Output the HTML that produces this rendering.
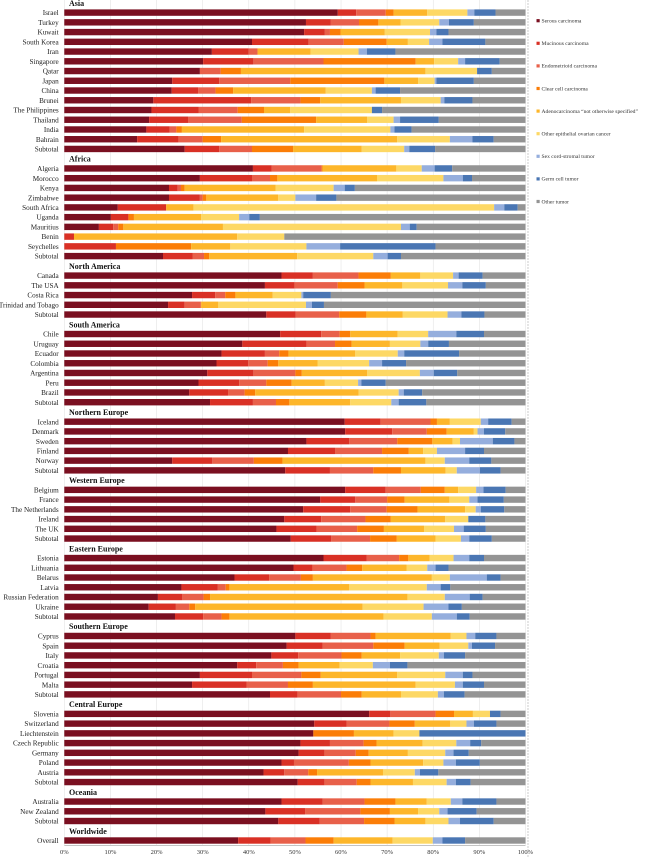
<!DOCTYPE html>
<html><head><meta charset="utf-8"><style>
body{margin:0;background:#fff;}
svg text{font-family:"Liberation Serif",serif;}
</style></head><body>
<svg id="chart" width="652" height="858" xmlns="http://www.w3.org/2000/svg"></svg>
<script>
const seriesNames=["Serous carcinoma","Mucinous carcinoma","Endometrioid carcinoma","Clear cell carcinoma","Adenocarcinoma \u201cnot otherwise specified\u201d","Other epithelial ovarian cancer","Sex cord-stromal tumor","Germ cell tumor","Other tumor"];
const colors=["#7a0f20","#d93025","#e8604a","#fb7d07","#fdb62a","#fdd865","#95aedd","#4a76b3","#949494"];
const tickLabels=["0%","10%","20%","30%","40%","50%","60%","70%","80%","90%","100%"];
const groups=["Asia","Africa","North America","South America","Northern Europe","Western Europe","Eastern Europe","Southern Europe","Central Europe","Oceania","Worldwide"];
const countries=[
["Israel","Turkey","Kuwait","South Korea","Iran","Singapore","Qatar","Japan","China","Brunei","The Philippines","Thailand","India","Bahrain","Subtotal"],
["Algeria","Morocco","Kenya","Zimbabwe","South Africa","Uganda","Mauritius","Benin","Seychelles","Subtotal"],
["Canada","The USA","Costa Rica","Trinidad and Tobago","Subtotal"],
["Chile","Uruguay","Ecuador","Colombia","Argentina","Peru","Brazil","Subtotal"],
["Iceland","Denmark","Sweden","Finland","Norway","Subtotal"],
["Belgium","France","The Netherlands","Ireland","The UK","Subtotal"],
["Estonia","Lithuania","Belarus","Latvia","Russian Federation","Ukraine","Subtotal"],
["Cyprus","Spain","Italy","Croatia","Portugal","Malta","Subtotal"],
["Slovenia","Switzerland","Liechtenstein","Czech Republic","Germany","Poland","Austria","Subtotal"],
["Australia","New Zealand","Subtotal"],
["Overall"]];
const asiaValues=[
[59.3,4.0,6.4,1.7,7.3,8.7,1.5,4.6,6.5],[52.4,5.4,6.1,4.2,4.8,8.4,2.1,5.4,11.2],[52.0,4.5,1.1,2.3,9.6,9.8,1.4,2.6,16.7],[40.7,12.3,7.6,9.3,4.6,4.6,2.9,9.3,8.7],[32.0,8.0,1.9,0,11.5,10.4,1.8,6.2,28.2],[30.1,10.9,15.2,20.0,4.0,5.2,1.5,7.5,5.6],[29.4,0,4.5,4.4,40.0,11.2,0,3.2,7.3],[23.4,10.2,15.4,20.4,7.3,3.6,0.4,8.1,11.2],[23.3,5.7,3.8,3.8,20.1,10.0,0.8,5.3,27.2],[19.3,21.2,10.7,4.3,17.5,8.6,0.8,6.1,11.5],[18.9,10.2,8.5,5.7,5.7,17.7,0,2.2,31.1],[18.4,8.5,11.6,16.1,11.1,5.7,1.4,8.4,18.8],[17.8,5.0,1.5,1.2,26.5,18.7,0.9,3.7,24.7],[15.8,9.0,5.2,4.0,38.2,11.4,4.9,4.6,6.9],[26.1,7.5,7.1,8.9,14.9,9.2,1.1,5.6,19.6]];
const africaValues=[
[40.9,4.1,10.8,0.2,16.0,5.5,2.8,3.8,15.9],[29.4,11.3,3.9,1.6,21.6,14.4,4.2,2.0,11.6],[22.7,1.9,0.7,0.8,19.7,12.6,2.4,2.2,37.0],[22.7,6.7,0.6,0.8,15.6,3.7,4.5,4.4,41.0],[11.6,10.5,0,0,5.9,65.2,2.2,2.9,1.7],[10.1,3.8,0,1.2,14.6,8.2,2.2,2.3,57.6],[7.5,3.1,1.1,1.1,21.6,38.6,1.9,1.5,23.6],[0,2.1,0,0,35.4,10.2,0,0,52.3],[0,11.2,0,16.3,8.5,16.5,7.3,20.7,19.5],[21.4,6.4,2.5,1.1,19.1,16.5,3.1,2.9,27.0]];
const northAmericaValues=[
[47.1,6.8,9.9,7.0,6.4,7.1,1.2,5.2,9.3],[43.5,6.4,9.4,5.8,8.2,9.9,3.1,5.1,8.6],[27.7,5.0,2.2,2.2,8.1,6.2,0.4,6.0,42.2],[22.5,3.6,3.5,0.1,3.7,19.0,1.3,2.6,43.7],[43.8,6.4,9.4,5.9,7.9,9.7,3.0,5.0,8.9]];
const southAmericaValues=[
[46.8,8.9,4.0,2.3,10.3,6.6,6.1,6.0,9.0],[38.6,13.9,6.2,3.6,8.3,6.6,1.7,4.5,16.6],[34.1,9.4,3.1,2.0,14.5,9.2,1.4,11.9,14.4],[33.0,6.9,4.2,2.3,8.5,11.2,2.8,5.2,25.9],[31.0,10.0,9.1,1.4,14.2,11.4,3.0,5.1,14.8],[29.1,8.8,5.9,5.5,7.2,7.2,0.7,5.3,30.3],[27.1,8.4,3.6,2.3,22.4,8.7,1.1,4.0,22.4],[31.6,9.3,5.0,2.9,13.2,8.9,1.6,6.0,21.5]];
const northernEuropeValues=[
[60.8,7.8,10.8,1.4,2.8,6.7,1.6,5.1,3.0],[60.9,10.2,7.5,4.3,5.9,0.8,1.4,4.6,4.4],[52.5,9.3,10.4,7.6,4.4,1.6,7.1,4.7,2.4],[48.5,10.2,10.2,5.8,3.1,3.0,6.1,4.1,9.0],[23.4,8.7,9.0,6.2,31.0,4.2,5.3,4.8,7.4],[47.9,9.7,9.4,6.0,9.7,2.4,5.0,4.5,5.4]];
const westernEuropeValues=[
[60.9,8.8,7.6,5.2,2.9,3.9,1.6,4.8,4.3],[55.5,7.6,6.9,3.8,9.7,4.3,1.8,5.7,4.7],[51.8,10.2,7.9,6.7,10.3,2.3,1.1,5.1,4.6],[47.7,8.0,9.6,5.5,11.8,5.0,0,3.7,8.7],[46.0,8.7,8.8,5.8,8.7,6.5,2.1,4.8,8.6],[49.1,8.8,8.4,5.8,8.4,5.5,1.8,4.9,7.3]];
const easternEuropeValues=[
[56.2,9.4,7.0,2.0,4.6,5.2,3.4,3.2,9.0],[49.7,4.1,7.4,3.4,9.6,4.5,1.8,2.8,16.7],[36.9,7.5,6.9,2.6,25.8,3.9,8.0,3.0,5.4],[25.4,7.9,1.7,0.8,26.0,16.8,3.0,2.1,16.3],[20.3,5.3,4.6,1.4,42.8,8.1,5.4,2.8,9.3],[18.3,5.9,2.9,1.3,36.3,13.2,5.4,2.9,13.8],[24.0,6.1,4.0,1.7,33.4,10.5,5.4,2.8,12.1]];
const southernEuropeValues=[
[50.1,7.7,8.6,1.1,16.3,3.4,1.9,4.6,6.3],[48.2,7.8,11.0,6.8,7.6,6.2,0.8,5.0,6.6],[44.9,5.8,9.4,4.4,8.3,8.4,1.1,4.6,13.1],[37.5,4.1,5.8,3.4,8.9,7.2,3.7,3.8,25.6],[29.4,11.3,10.7,4.2,16.6,10.4,3.8,2.1,11.5],[27.7,11.8,9.0,5.4,22.3,8.5,1.7,4.6,9.0],[44.6,6.0,9.4,4.5,8.5,8.0,1.3,4.5,13.2]];
const centralEuropeValues=[
[66.1,4.6,9.8,4.0,4.1,3.7,0,2.3,5.4],[54.2,7.0,9.3,5.5,7.7,3.5,1.6,4.9,6.3],[54.0,0,0,8.8,8.6,5.6,0,23.0,0],[51.2,6.4,7.3,2.8,10.0,7.3,3.0,2.4,9.6],[50.8,5.6,6.8,2.8,8.5,8.1,1.8,3.3,12.3],[47.1,2.7,11.9,4.7,11.4,4.4,2.7,5.2,9.9],[43.2,4.5,5.2,1.9,14.3,6.9,1.1,4.0,18.9],[50.6,5.8,7.0,3.0,9.2,7.3,2.0,3.2,11.9]];
const oceaniaValues=[
[47.1,8.9,9.1,6.7,6.8,5.2,2.5,7.4,6.3],[43.6,8.6,12.0,6.4,6.1,4.6,1.8,6.3,10.6],[46.4,9.0,9.6,6.6,6.7,5.0,2.5,7.3,6.9]];
const worldwideValues=[[37.7,7.0,7.6,6.1,12.8,8.7,2.1,4.9,13.1]];
const groupValues=[asiaValues,africaValues,northAmericaValues,southAmericaValues,northernEuropeValues,westernEuropeValues,easternEuropeValues,southernEuropeValues,centralEuropeValues,oceaniaValues,worldwideValues];

const NS="http://www.w3.org/2000/svg";
const svg=document.getElementById('chart');
const X0=64.3,XW=461.2;
const x=p=>X0+p/100*XW;
const Y0=12.6,PITCH=9.74,BH=6.4;
const y=slot=>Y0+slot*PITCH;
function mk(tag,attrs,parent){const e=document.createElementNS(NS,tag);for(const k in attrs)e.setAttribute(k,attrs[k]);(parent||svg).appendChild(e);return e;}
const grid=mk('g',{});


tickLabels.forEach((t,i)=>{
  const gl=mk('line',{x1:x(i*10),x2:x(i*10),y1:0,y2:845,stroke:'#e4e4e4','stroke-width':0.6},grid);
  
  
  const tl=mk('text',{x:x(i*10),y:854,'font-size':6.5,'text-anchor':'middle',fill:'#333'});
  tl.textContent=t;
  
  
});
const ax=mk('line',{x1:X0,x2:x(100),y1:845.5,y2:845.5,stroke:'#888','stroke-width':0.6});


const sep=mk('line',{x1:528,x2:528,y1:0,y2:858,stroke:'#aaa','stroke-width':0.6,'stroke-dasharray':'2,1'});


let slot=-1;
groups.forEach((g,gi)=>{
  const h=mk('text',{x:69,y:y(slot)+3,'font-size':8,'font-weight':'bold',fill:'#111'});
  h.textContent=g;
  
  
  slot++;
  countries[gi].forEach((c,ci)=>{
    const cy=y(slot);
    const lab=mk('text',{x:58.7,y:cy+2.6,'font-size':7.2,'text-anchor':'end',fill:'#222'});
    lab.textContent=c;
    
    
    const row=groupValues[gi][ci];
    const tot=row.reduce((a,b)=>a+b,0);
    let acc=0;
    row.forEach((v,si)=>{
      const p=v/tot*100;
      if(p>0){
        const r=mk('rect',{x:x(acc),y:cy-BH/2,width:x(acc+p)-x(acc),height:BH,fill:colors[si]});
        
        
      }
      acc+=p;
    });
    slot++;
  });
});
seriesNames.forEach((n,i)=>{
  const ly=20.7+i*22.6;
  const sq=mk('rect',{x:536.5,y:ly-1.6,width:3.2,height:3.2,fill:colors[i]});
  
  
  const t=mk('text',{x:541.5,y:ly+1.8,'font-size':5.6,fill:'#333'});
  t.textContent=n;
  
  
});
</script>
</body></html>
